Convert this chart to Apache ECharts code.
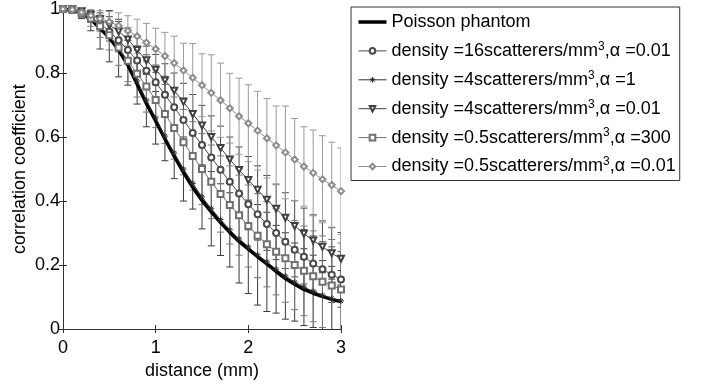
<!DOCTYPE html>
<html>
<head>
<meta charset="utf-8">
<script src="https://cdn.jsdelivr.net/npm/echarts@6/dist/echarts.min.js"></script>
<style>html,body{margin:0;padding:0;background:#fff}#c{width:702px;height:385px}</style>
</head>
<body>
<div id="c"></div>
<script>
var distance = [0, 0.1, 0.2, 0.3, 0.4, 0.5, 0.6, 0.7, 0.8, 0.9, 1.0, 1.1, 1.2, 1.3, 1.4, 1.5, 1.6, 1.7, 1.8, 1.9, 2.0, 2.1, 2.2, 2.3, 2.4, 2.5, 2.6, 2.7, 2.8, 2.9, 3.0];
var xTicks = [0, 1, 2, 3];
var yTicks = [0, 0.2, 0.4, 0.6, 0.8, 1];

var seriesNames = [
  'Poisson phantom',
  'density =16scatterers/mm3,α =0.01',
  'density =4scatterers/mm3,α =1',
  'density =4scatterers/mm3,α =0.01',
  'density =0.5scatterers/mm3,α =300',
  'density =0.5scatterers/mm3,α =0.01'
];

var poisson = [1, 0.997, 0.988, 0.968, 0.94, 0.91, 0.872, 0.825, 0.765, 0.705, 0.65, 0.594, 0.54, 0.49, 0.443, 0.402, 0.366, 0.333, 0.302, 0.274, 0.25, 0.226, 0.204, 0.18, 0.158, 0.14, 0.124, 0.112, 0.102, 0.093, 0.086];

var d16a001 = [1, 0.998, 0.99, 0.975, 0.955, 0.93, 0.902, 0.872, 0.839, 0.807, 0.771, 0.732, 0.693, 0.653, 0.613, 0.575, 0.536, 0.498, 0.46, 0.424, 0.39, 0.359, 0.328, 0.3, 0.273, 0.248, 0.226, 0.205, 0.187, 0.17, 0.155];
var d16a001Err = [0, 0.004, 0.01, 0.017, 0.024, 0.03, 0.036, 0.041, 0.046, 0.05, 0.054, 0.058, 0.061, 0.064, 0.067, 0.07, 0.072, 0.074, 0.076, 0.078, 0.08, 0.081, 0.082, 0.083, 0.084, 0.085, 0.085, 0.086, 0.086, 0.087, 0.087];

var d4a1 = [1, 0.998, 0.99, 0.972, 0.945, 0.915, 0.878, 0.832, 0.775, 0.715, 0.66, 0.603, 0.55, 0.5, 0.455, 0.413, 0.376, 0.342, 0.31, 0.282, 0.257, 0.232, 0.21, 0.187, 0.166, 0.147, 0.131, 0.118, 0.106, 0.096, 0.088];
var d4a1Err = [0, 0.008, 0.02, 0.04, 0.07, 0.08, 0.09, 0.07, 0.072, 0.083, 0.082, 0.077, 0.08, 0.1, 0.08, 0.1, 0.116, 0.112, 0.116, 0.138, 0.146, 0.157, 0.155, 0.137, 0.135, 0.122, 0.12, 0.113, 0.108, 0.1, 0.095];

var d4a001 = [1, 0.999, 0.993, 0.982, 0.968, 0.95, 0.93, 0.905, 0.872, 0.84, 0.81, 0.777, 0.745, 0.71, 0.672, 0.636, 0.6, 0.566, 0.53, 0.497, 0.466, 0.435, 0.404, 0.376, 0.348, 0.322, 0.298, 0.277, 0.257, 0.237, 0.22];
var d4a001Err = [0, 0.003, 0.008, 0.014, 0.02, 0.026, 0.031, 0.036, 0.04, 0.044, 0.048, 0.052, 0.055, 0.058, 0.061, 0.063, 0.066, 0.068, 0.07, 0.072, 0.073, 0.075, 0.076, 0.077, 0.078, 0.079, 0.08, 0.08, 0.081, 0.081, 0.082];

var d05a300 = [1, 0.997, 0.987, 0.97, 0.946, 0.918, 0.88, 0.838, 0.798, 0.758, 0.716, 0.672, 0.628, 0.584, 0.541, 0.5, 0.46, 0.422, 0.388, 0.356, 0.322, 0.292, 0.265, 0.242, 0.221, 0.2, 0.182, 0.165, 0.148, 0.136, 0.124];
var d05a300Err = [0, 0.005, 0.013, 0.024, 0.035, 0.046, 0.056, 0.065, 0.073, 0.08, 0.086, 0.092, 0.097, 0.102, 0.107, 0.111, 0.115, 0.119, 0.122, 0.125, 0.128, 0.131, 0.133, 0.135, 0.137, 0.139, 0.14, 0.142, 0.143, 0.144, 0.145];

var d05a001 = [1, 0.998, 0.99, 0.98, 0.97, 0.96, 0.948, 0.932, 0.915, 0.895, 0.875, 0.853, 0.831, 0.808, 0.785, 0.762, 0.738, 0.715, 0.69, 0.665, 0.643, 0.62, 0.596, 0.574, 0.552, 0.53, 0.508, 0.488, 0.468, 0.45, 0.431];
var d05a001Err = [0, 0.004, 0.01, 0.018, 0.025, 0.032, 0.04, 0.047, 0.053, 0.06, 0.065, 0.074, 0.084, 0.085, 0.107, 0.098, 0.119, 0.116, 0.109, 0.119, 0.12, 0.123, 0.124, 0.123, 0.145, 0.128, 0.124, 0.134, 0.136, 0.134, 0.135];

var FONT = 'Liberation Sans';
var asteriskPath = 'path://M5,0L5,10M0,5L10,5M1.5,1.5L8.5,8.5M1.5,8.5L8.5,1.5';

var marked = [
  {name: seriesNames[1], y: d16a001, err: d16a001Err, symbol: 'emptyCircle', rot: 0, color: '#4a4a4a', ebColor: '#555555'},
  {name: seriesNames[2], y: d4a1, err: d4a1Err, symbol: asteriskPath, rot: 0, color: '#2e2e2e', ebColor: '#3a3a3a'},
  {name: seriesNames[3], y: d4a001, err: d4a001Err, symbol: 'emptyTriangle', rot: 180, color: '#404040', ebColor: '#4a4a4a'},
  {name: seriesNames[4], y: d05a300, err: d05a300Err, symbol: 'emptyRect', rot: 0, color: '#707070', ebColor: '#7a7a7a'},
  {name: seriesNames[5], y: d05a001, err: d05a001Err, symbol: 'emptyDiamond', rot: 0, color: '#8c8c8c', ebColor: '#9a9a9a'}
];

function pairs(ys) { return distance.map(function (x, i) { return [x, ys[i]]; }); }

function errSeries(s) {
  return {
    type: 'custom', z: 1, silent: true, clip: true,
    data: distance.map(function (x, i) { return [x, s.y[i] - s.err[i], s.y[i] + s.err[i]]; }),
    encode: {x: 0, y: [1, 2]},
    renderItem: function (params, api) {
      var x = api.value(0), lo = api.value(1), hi = api.value(2);
      var a = api.coord([x, hi]), b = api.coord([x, lo]);
      var w = 3.5, st = {stroke: s.ebColor, lineWidth: 1};
      return {type: 'group', children: [
        {type: 'line', shape: {x1: a[0], y1: a[1], x2: b[0], y2: b[1]}, style: st},
        {type: 'line', shape: {x1: a[0] - w, y1: a[1], x2: a[0] + w, y2: a[1]}, style: st},
        {type: 'line', shape: {x1: b[0] - w, y1: b[1], x2: b[0] + w, y2: b[1]}, style: st}
      ]};
    }
  };
}

var series = [];
marked.forEach(function (s) { series.push(errSeries(s)); });
series.push({
  name: seriesNames[0], type: 'line', z: 2, data: pairs(poisson), showSymbol: false, symbol: 'none',
  smooth: false, lineStyle: {color: '#000', width: 3.5}, itemStyle: {color: '#000'}
});
marked.forEach(function (s) {
  series.push({
    name: s.name, type: 'line', z: 3, data: pairs(s.y),
    symbol: s.symbol, symbolSize: 6, symbolRotate: s.rot, showAllSymbol: true,
    lineStyle: {color: s.color, width: 1},
    itemStyle: {color: s.color, borderColor: s.color, borderWidth: 1}
  });
});

var legendData = [{name: seriesNames[0], icon: 'path://M0,0L28,0L28,3.5L0,3.5Z', itemStyle: {color: '#000', borderWidth: 0}}];
marked.forEach(function (s) {
  legendData.push({name: s.name, lineStyle: {width: 1, color: s.color}, itemStyle: {borderWidth: 1}});
});

var axisLine = {show: true, lineStyle: {color: '#333', width: 1}};
var chart = echarts.init(document.getElementById('c'), null, {renderer: 'canvas'});
chart.setOption({
  animation: false,
  backgroundColor: '#fff',
  textStyle: {fontFamily: FONT},
  grid: {left: 63, right: 361, top: 7, bottom: 49, containLabel: false},
  legend: {
    left: 351, top: 7, orient: 'vertical',
    data: legendData,
    itemWidth: 28, itemHeight: 7, itemGap: 8.4,
    padding: [5, 4, 4, 7],
    borderColor: '#333', borderWidth: 1,
    textStyle: {fontFamily: FONT, fontSize: 18, color: '#000', lineHeight: 20,
      rich: {sup: {fontFamily: FONT, fontSize: 12, padding: [0, 0, 9, 0]}}},
    formatter: function (n) { return n.replace('mm3', 'mm{sup|3}'); }
  },
  xAxis: [
    {type: 'value', min: xTicks[0], max: xTicks[xTicks.length - 1], interval: 1,
     name: 'distance (mm)', nameLocation: 'middle', nameGap: 32,
     nameTextStyle: {fontFamily: FONT, fontSize: 18, color: '#000'},
     axisLine: axisLine, axisTick: {show: true, inside: true, length: 4, lineStyle: {color: '#333'}},
     axisLabel: {fontFamily: FONT, fontSize: 18, color: '#000', margin: 10},
     splitLine: {show: false}},
    {type: 'value', position: 'top', min: 0, max: 3, interval: 1,
     axisLine: axisLine, axisTick: {show: true, inside: true, length: 4, lineStyle: {color: '#333'}},
     axisLabel: {show: false}, splitLine: {show: false}}
  ],
  yAxis: [
    {type: 'value', min: yTicks[0], max: yTicks[yTicks.length - 1], interval: 0.2,
     name: 'correlation coefficient', nameLocation: 'middle', nameGap: 34,
     nameTextStyle: {fontFamily: FONT, fontSize: 18, color: '#000'},
     axisLine: axisLine, axisTick: {show: true, inside: true, length: 4, lineStyle: {color: '#333'}},
     axisLabel: {fontFamily: FONT, fontSize: 18, color: '#000', margin: 3},
     splitLine: {show: false}},
    {type: 'value', position: 'right', min: 0, max: 1, interval: 0.2,
     axisLine: axisLine, axisTick: {show: true, inside: true, length: 4, lineStyle: {color: '#333'}},
     axisLabel: {show: false}, splitLine: {show: false}}
  ],
  series: series
});
</script>
</body>
</html>
